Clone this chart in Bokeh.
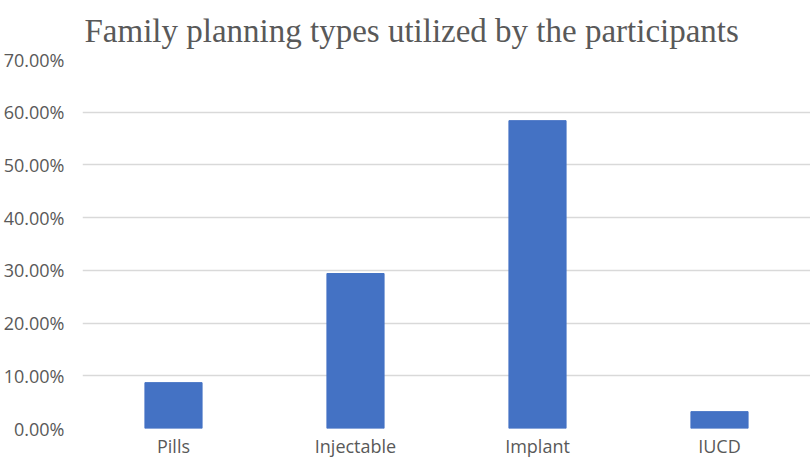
from bokeh.plotting import figure
from bokeh.models import Range1d, FactorRange, FixedTicker, NumeralTickFormatter, ColumnDataSource
from bokeh.embed import file_html
from bokeh.resources import INLINE

# data
categories = ["Pills", "Injectable", "Implant", "IUCD"]
shares = [0.087, 0.294, 0.584, 0.032]
y_ticks = [0.0, 0.1, 0.2, 0.3, 0.4, 0.5, 0.6, 0.7]
title_text = "Family planning types utilized by the participants"

source = ColumnDataSource(data=dict(cat=categories, val=shares))

p = figure(
    width=810, height=460,
    x_range=FactorRange(factors=categories),
    y_range=Range1d(0, 0.70),
    output_backend="svg", toolbar_location=None,
    min_border_left=0, min_border_right=0, min_border_top=0, min_border_bottom=0,
)
p.title.text = title_text
p.title.text_font = "Liberation Serif"
p.title.text_font_size = "33px"
p.title.text_font_style = "normal"
p.title.text_color = "#595959"
p.title.align = "left"
p.title.offset = 2
p.title.standoff = 21

p.vbar(x="cat", top="val", width=0.314, source=source,
       fill_color="#4472C4", line_color="#4472C4")

p.outline_line_color = None
p.background_fill_color = "white"
p.border_fill_color = "white"
p.xgrid.grid_line_color = None
p.ygrid.grid_line_color = "#D9D9D9"
p.ygrid.grid_line_width = 1.3

p.yaxis.ticker = FixedTicker(ticks=y_ticks)
p.yaxis.formatter = NumeralTickFormatter(format="0.00%")
p.yaxis.axis_line_color = None
p.yaxis.major_tick_line_color = None
p.yaxis.minor_tick_line_color = None
p.yaxis.major_tick_out = 0
p.yaxis.major_tick_in = 0
p.yaxis.major_label_standoff = 18
p.yaxis.major_label_text_font = "Open Sans"
p.yaxis.major_label_text_font_size = "18px"
p.yaxis.major_label_text_color = "#595959"

p.xaxis.axis_line_color = None
p.xaxis.major_tick_line_color = None
p.xaxis.major_tick_out = 0
p.xaxis.major_tick_in = 0
p.xaxis.major_label_standoff = 5
p.xaxis.major_label_text_font = "Open Sans"
p.xaxis.major_label_text_font_size = "18px"
p.xaxis.major_label_text_color = "#595959"

open("out.html", "w").write(file_html(p, INLINE))
